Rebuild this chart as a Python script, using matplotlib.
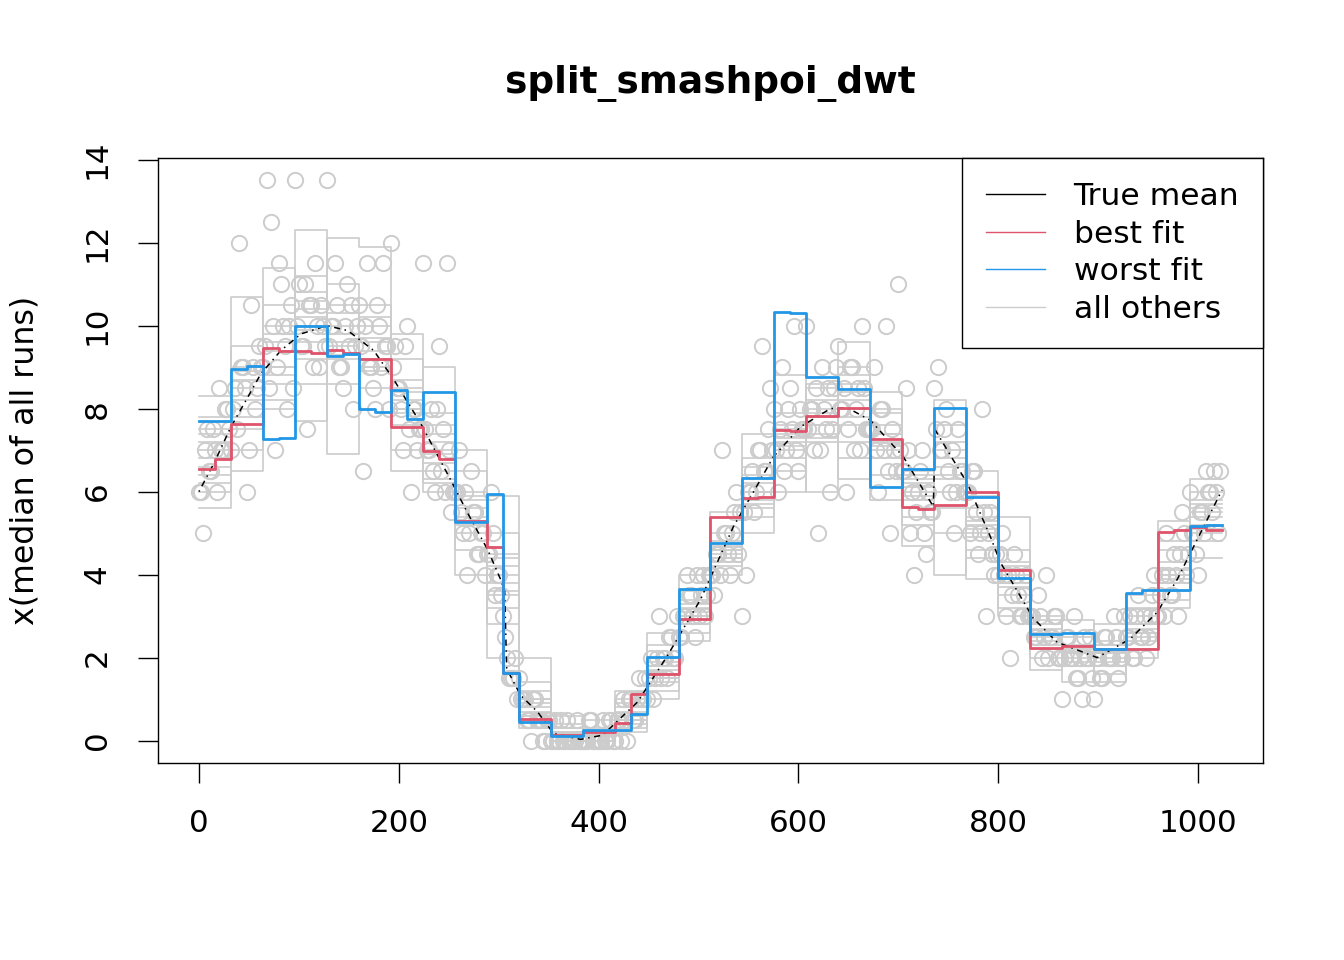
import numpy as np
import matplotlib
matplotlib.use("Agg")
import matplotlib.pyplot as plt
from matplotlib.lines import Line2D

# observed counts (median of all runs), two interleaved sets, one every 4 positions
obs_x = np.arange(0, 1024, 4)
obs_y = [
    6.0, 5.0, 7.5, 6.5, 7.0, 8.5, 7.0, 8.0,
    7.0, 8.5, 12.0, 9.0, 6.0, 10.5, 8.0, 9.5,
    9.0, 13.5, 12.5, 7.0, 11.5, 10.0, 8.0, 10.5,
    13.5, 11.0, 9.5, 7.5, 10.5, 11.5, 9.0, 10.0,
    13.5, 10.0, 11.5, 9.0, 8.5, 11.0, 10.5, 9.5,
    10.5, 6.5, 11.5, 9.0, 8.0, 10.0, 11.5, 9.5,
    12.0, 9.5, 8.5, 7.0, 10.0, 6.0, 8.0, 7.5,
    11.5, 7.0, 8.0, 6.0, 9.5, 7.5, 11.5, 5.5,
    6.0, 7.0, 5.0, 4.0, 6.5, 5.5, 4.5, 5.0,
    4.5, 6.0, 3.5, 4.0, 3.0, 2.0, 1.5, 2.0,
    1.5, 1.0, 0.5, 0.0, 1.0, 0.5, 0.0, 0.5,
    0.0, 0.5, 0.0, 0.0, 0.5, 0.0, 0.0, 0.0,
    0.0, 0.0, 0.5, 0.0, 0.0, 0.5, 0.0, 0.5,
    0.0, 0.5, 1.0, 0.0, 1.0, 0.5, 1.5, 1.0,
    1.0, 2.0, 1.5, 3.0, 2.0, 1.5, 2.5, 2.0,
    2.5, 3.0, 4.0, 3.5, 2.5, 3.0, 4.0, 3.5,
    4.0, 3.5, 4.5, 7.0, 5.0, 4.0, 5.5, 4.5,
    3.0, 4.0, 6.0, 5.5, 7.0, 9.5, 6.5, 8.5,
    8.0, 6.0, 9.0, 7.0, 8.5, 10.0, 6.5, 7.5,
    10.0, 8.0, 7.0, 5.0, 9.0, 7.5, 6.0, 8.5,
    9.5, 8.0, 6.0, 9.0, 7.0, 8.5, 10.0, 7.5,
    7.5, 9.0, 6.0, 8.0, 10.0, 5.0, 7.0, 11.0,
    6.5, 8.5, 5.0, 4.0, 6.0, 7.0, 4.5, 5.5,
    8.5, 9.0, 7.0, 8.0, 6.0, 5.0, 7.5, 6.5,
    6.0, 5.0, 6.5, 4.5, 8.0, 3.0, 5.5, 4.0,
    4.0, 5.0, 3.0, 2.0, 4.5, 3.5, 3.0, 4.0,
    3.0, 2.5, 3.5, 2.0, 4.0, 2.5, 3.0, 2.0,
    1.0, 2.5, 2.0, 3.0, 1.5, 1.0, 2.0, 2.5,
    1.0, 2.0, 1.5, 2.5, 2.0, 3.0, 1.5, 2.0,
    2.5, 3.0, 2.0, 3.5, 2.5, 2.0, 3.0, 4.0,
    3.0, 4.0, 5.0, 3.5, 4.5, 3.0, 5.5, 4.0,
    6.0, 5.0, 4.0, 5.5, 6.5, 6.0, 6.5, 5.0,
]
obs2_x = np.arange(2, 1024, 4)
obs2_y = [
    6.0, 7.0, 6.5, 7.5, 6.0, 7.0, 8.0, 7.5,
    8.0, 7.5, 9.0, 8.5, 7.0, 9.0, 8.5, 9.0,
    9.5, 8.5, 10.0, 9.0, 11.0, 9.5, 10.0, 8.5,
    10.0, 9.5, 11.0, 10.5, 9.0, 10.0, 10.5, 9.5,
    9.5, 10.0, 10.5, 9.0, 10.0, 9.5, 8.0, 10.0,
    9.5, 10.0, 9.0, 8.5, 10.5, 9.0, 9.5, 8.0,
    9.0, 8.5, 8.0, 9.5, 7.5, 8.0, 7.0, 7.5,
    7.5, 7.0, 6.5, 8.0, 6.5, 6.0, 7.0, 6.0,
    6.0, 5.5, 6.0, 5.0, 5.5, 4.5, 5.0, 4.0,
    4.5, 5.0, 4.0, 3.5, 2.5, 1.5, 1.5, 1.0,
    1.0, 1.0, 0.5, 1.0, 0.5, 0.5, 0.0, 0.5,
    0.0, 0.0, 0.5, 0.0, 0.0, 0.0, 0.5, 0.0,
    0.0, 0.5, 0.0, 0.0, 0.0, 0.0, 0.5, 0.0,
    0.5, 0.0, 0.5, 1.0, 0.5, 1.0, 1.0, 1.5,
    1.5, 1.0, 2.0, 1.5, 2.0, 2.5, 2.0, 3.0,
    2.5, 3.0, 3.5, 3.0, 4.0, 3.5, 3.0, 4.0,
    4.0, 4.5, 4.0, 5.0, 4.5, 5.0, 6.0, 5.5,
    5.5, 6.0, 6.5, 6.0, 7.0, 6.5, 7.5, 7.0,
    7.0, 7.5, 6.5, 8.0, 7.5, 7.0, 8.0, 7.5,
    7.5, 8.0, 8.5, 7.0, 8.0, 8.5, 7.5, 9.0,
    8.0, 8.5, 7.5, 9.0, 8.0, 7.0, 8.5, 7.5,
    7.5, 7.0, 8.0, 7.0, 6.5, 7.5, 6.5, 7.0,
    6.5, 7.0, 6.0, 5.5, 6.5, 5.0, 6.0, 5.5,
    7.5, 7.0, 7.5, 6.5, 7.0, 6.0, 6.5, 6.0,
    6.0, 6.5, 5.5, 5.0, 5.5, 5.0, 4.5, 4.5,
    4.5, 4.0, 4.0, 3.5, 4.0, 3.0, 3.5, 3.0,
    3.0, 2.5, 3.0, 2.5, 2.0, 2.5, 3.0, 2.0,
    2.0, 2.5, 2.0, 1.5, 2.0, 2.5, 2.0, 1.5,
    2.0, 1.5, 2.5, 2.0, 2.0, 2.5, 2.0, 3.0,
    2.5, 2.0, 3.0, 2.5, 3.0, 2.5, 3.5, 3.0,
    3.5, 3.0, 4.0, 3.5, 4.0, 4.5, 5.0, 4.5,
    5.0, 4.5, 5.5, 5.0, 6.0, 5.5, 6.0, 6.5,
]

# true mean
mu_x = [0, 15, 32, 49, 62, 82, 102, 128, 149, 175, 195, 222, 252, 269, 289,
        302, 306, 308, 322, 339, 355, 382, 404, 439, 469, 502, 535, 559, 575,
        602, 632, 649, 672, 705, 735, 737, 769, 792, 802, 835, 859, 899, 932,
        959, 979, 999, 1024]
mu_y = [6.0, 6.68, 7.56, 8.28, 8.84, 9.40, 9.80, 10.0, 9.88, 9.40, 8.70, 7.64,
        6.28, 5.48, 4.60, 3.88, 3.60, 1.73, 1.09, 0.69, 0.17, 0.03, 0.13, 0.93,
        2.05, 3.40, 5.16, 6.16, 6.84, 7.56, 8.0, 8.02, 7.72, 6.84, 5.64, 7.48,
        6.20, 4.92, 4.30, 2.95, 2.37, 2.0, 2.45, 3.09, 3.88, 4.84, 6.04]

# best fit (step function)
best_edges = [0, 16, 32, 64, 80, 112, 128, 144, 160, 192, 224, 240, 256, 288,
              304, 320, 352, 384, 416, 432, 448, 480, 512, 544, 560, 576, 592,
              608, 640, 672, 704, 720, 736, 768, 800, 832, 864, 896, 960, 976,
              992, 1008, 1024]
best_vals = [6.55, 6.78, 7.64, 9.46, 9.38, 9.33, 9.42, 9.33, 9.20, 7.56, 6.98,
             6.78, 5.28, 4.67, 1.63, 0.53, 0.13, 0.21, 0.43, 1.13, 1.61, 2.92,
             5.40, 5.84, 5.88, 7.48, 7.46, 7.82, 8.02, 7.26, 5.62, 5.58, 5.67,
             5.98, 4.12, 2.22, 2.27, 2.21, 5.02, 5.08, 5.15, 5.08]

# worst fit (step function)
worst_edges = [0, 32, 48, 64, 80, 96, 128, 144, 160, 176, 192, 208, 224, 256,
               288, 304, 320, 352, 384, 432, 448, 480, 512, 544, 576, 592, 608,
               640, 672, 704, 736, 768, 800, 832, 864, 896, 928, 944, 992, 1008,
               1024]
worst_vals = [7.70, 8.96, 9.02, 7.28, 7.30, 10.0, 9.28, 9.32, 8.00, 7.92, 8.44,
              7.76, 8.40, 5.26, 5.95, 1.62, 0.45, 0.11, 0.26, 0.65, 2.02, 3.66,
              4.75, 6.32, 10.32, 10.30, 8.76, 8.48, 6.12, 6.55, 8.02, 5.88, 3.92,
              2.56, 2.60, 2.21, 3.55, 3.63, 5.18, 5.20]

# all other runs, one level per block of 32
other_edges = np.arange(0, 1025, 32)
other_runs = [
    [7.2, 10.7, 8.2, 12.3, 10.5, 9.0, 7.0, 6.3, 6.5, 5.0, 1.0, 0.2, 0.0, 0.9, 2.3, 3.3,
     4.3, 6.0, 8.8, 7.2, 9.6, 8.0, 5.4, 7.2, 4.6, 3.5, 2.6, 1.8, 2.3, 3.0, 4.6, 6.3],
    [5.6, 7.5, 10.5, 9.2, 12.1, 11.9, 9.8, 7.6, 5.0, 2.0, 0.5, 0.0, 0.3, 0.5, 1.4, 2.6,
     5.0, 7.4, 6.5, 8.5, 7.2, 6.8, 6.2, 8.2, 5.9, 4.2, 2.0, 2.5, 1.8, 2.6, 3.6, 4.4],
    [8.3, 9.0, 11.4, 10.4, 6.9, 10.0, 8.7, 9.0, 4.0, 4.4, 2.0, 0.6, 0.1, 0.2, 1.9, 4.0,
     4.8, 5.4, 7.9, 6.0, 8.8, 5.8, 6.5, 5.0, 4.9, 5.4, 2.8, 2.1, 1.4, 3.5, 5.3, 5.6],
    [6.4, 8.0, 9.6, 7.7, 9.5, 8.5, 6.5, 7.0, 7.0, 3.2, 0.3, 0.1, 0.5, 1.2, 1.0, 2.9,
     4.0, 6.6, 7.0, 8.6, 6.3, 7.9, 4.7, 6.0, 3.9, 3.0, 3.0, 1.4, 2.8, 2.2, 3.2, 5.0],
    [7.8, 6.5, 9.0, 11.2, 9.2, 9.7, 8.0, 6.0, 5.8, 5.9, 1.4, 0.3, 0.2, 0.7, 2.6, 3.6,
     4.5, 5.0, 6.0, 7.6, 8.4, 7.4, 5.6, 4.0, 5.4, 3.8, 2.3, 2.9, 2.1, 2.0, 4.1, 5.8],
    [6.8, 8.7, 8.0, 9.9, 10.0, 8.9, 7.9, 6.7, 5.3, 3.8, 0.8, 0.0, 0.0, 0.4, 1.6, 3.1,
     4.2, 6.2, 7.2, 7.8, 7.8, 7.2, 6.0, 6.8, 5.2, 4.0, 2.5, 2.2, 2.0, 2.8, 4.0, 5.4],
    [6.2, 9.5, 8.6, 10.8, 11.0, 10.5, 9.2, 7.9, 6.0, 4.5, 1.2, 0.4, 0.2, 1.0, 2.0, 3.4,
     5.5, 6.8, 7.6, 8.2, 9.0, 8.4, 5.2, 7.6, 6.5, 4.6, 2.2, 1.8, 2.4, 3.2, 4.8, 4.8],
    [7.5, 7.0, 10.0, 8.6, 8.6, 9.4, 8.4, 6.2, 4.6, 2.8, 0.6, 0.1, 0.0, 0.6, 1.2, 2.4,
     4.6, 5.8, 6.8, 7.4, 6.8, 6.4, 6.4, 5.6, 4.4, 3.2, 1.7, 2.6, 1.6, 2.4, 3.4, 6.0],
    [7.0, 8.2, 9.0, 10.2, 9.6, 9.2, 8.0, 7.2, 5.6, 3.5, 0.9, 0.2, 0.1, 0.5, 1.8, 3.0,
     4.4, 6.0, 7.4, 7.6, 8.0, 7.4, 6.1, 6.6, 5.3, 3.9, 2.7, 2.1, 2.2, 2.6, 4.0, 5.2],
    [6.6, 8.5, 9.4, 9.6, 10.3, 9.6, 8.5, 6.9, 5.4, 4.2, 0.7, 0.1, 0.1, 0.6, 1.7, 2.8,
     4.6, 5.7, 7.1, 8.0, 8.2, 7.1, 5.8, 6.3, 5.1, 4.1, 2.6, 2.0, 2.1, 2.8, 3.9, 5.5],
    [7.4, 7.8, 9.8, 10.0, 9.8, 9.0, 7.6, 7.4, 5.9, 4.0, 1.0, 0.3, 0.0, 0.8, 1.5, 3.2,
     4.7, 6.4, 7.3, 7.9, 7.6, 7.6, 6.3, 7.0, 5.6, 3.7, 2.4, 2.3, 2.3, 2.7, 4.3, 5.1],
    [6.0, 8.9, 8.8, 10.6, 9.3, 10.2, 8.2, 6.5, 5.2, 3.6, 0.6, 0.0, 0.2, 0.3, 1.5, 3.0,
     4.4, 5.6, 7.5, 7.3, 8.6, 7.0, 5.9, 6.4, 5.0, 4.3, 2.9, 1.9, 1.9, 2.5, 3.8, 5.7],
]

grey = "#CCCCCC"
red = "#DF536B"
blue = "#2297E6"

plt.rcParams["font.family"] = "DejaVu Sans"

fig = plt.figure(figsize=(13.44, 9.6), dpi=100)
ax = fig.add_axes([0.11756, 0.20521, 0.82217, 0.63021])

ax.plot(obs_x, obs_y, "o", mfc="none", mec=grey, ms=11.0, mew=1.4, zorder=1)
ax.plot(obs2_x, obs2_y, "o", mfc="none", mec=grey, ms=11.0, mew=1.4, zorder=1)

for run in other_runs:
    ax.step(other_edges, list(run) + [run[-1]], where="post", color=grey, lw=1.2, zorder=2)

ax.plot(mu_x, mu_y, color="black", lw=1.1, dashes=(1, 3, 4, 3), zorder=3)
ax.step(best_edges, best_vals + [best_vals[-1]], where="post", color=red, lw=2.0, zorder=4)
ax.step(worst_edges, worst_vals + [worst_vals[-1]], where="post", color=blue, lw=2.0, zorder=5)

ax.set_xlim(-40.96, 1064.96)
ax.set_ylim(-0.54, 14.04)
ax.set_xticks([0, 200, 400, 600, 800, 1000])
ax.set_yticks([0, 2, 4, 6, 8, 10, 12, 14])
ax.tick_params(axis="both", direction="out", length=14.4, width=1.0, pad=19, labelsize=22.3)
ax.tick_params(axis="y", labelrotation=90)
for lab in ax.get_yticklabels():
    lab.set_va("center")
for s in ax.spines.values():
    s.set_linewidth(1.0)

ax.set_title("split_smashpoi_dwt", fontsize=27, fontweight="bold", pad=47)
fig.text(25 / 1344, 1 - 460.5 / 960, "x(median of all runs)", rotation=90,
         ha="center", va="center", fontsize=22.8)

handles = [Line2D([], [], color="black", lw=1.0),
           Line2D([], [], color=red, lw=1.0),
           Line2D([], [], color=blue, lw=1.0),
           Line2D([], [], color=grey, lw=1.0)]
labels = ["True mean", "best fit", "worst fit", "all others"]
leg = ax.legend(handles, labels, loc="upper right", borderaxespad=0, fontsize=22.6,
                frameon=True, fancybox=False, framealpha=1, edgecolor="black",
                handlelength=1.9, handletextpad=0.9, borderpad=0.76,
                labelspacing=0.28)
leg.get_frame().set_linewidth(1.0)
leg.set_zorder(10)

fig.savefig("out.png", dpi=100)
